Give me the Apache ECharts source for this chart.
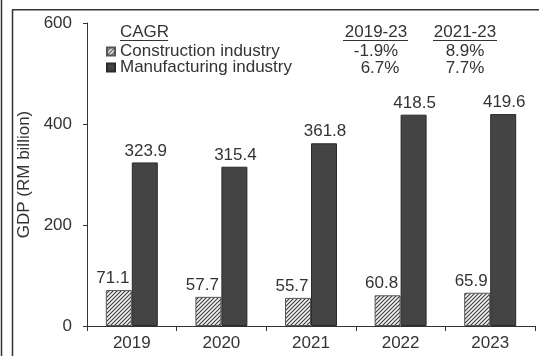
<!DOCTYPE html>
<html><head><meta charset="utf-8">
<script src="https://cdn.jsdelivr.net/npm/echarts@6/dist/echarts.min.js"></script>
<style>html,body{margin:0;padding:0;background:#fff}#c{width:539px;height:356px}</style>
</head><body><div id="c"></div>
<script>
const categories = ['2019', '2020', '2021', '2022', '2023'];
const construction = [71.1, 57.7, 55.7, 60.8, 65.9];
const manufacturing = [323.9, 315.4, 361.8, 418.5, 419.6];
const seriesNames = ['Construction industry', 'Manufacturing industry'];
const cagrHeader = 'CAGR';
const cagrPeriods = ['2019-23', '2021-23'];
const cagrConstruction = ['-1.9%', '8.9%'];
const cagrManufacturing = ['6.7%', '7.7%'];
const yTicks = [0, 200, 400, 600];

const pc = document.createElement('canvas');
pc.width = 4; pc.height = 4;
const g = pc.getContext('2d');
g.fillStyle = '#f4f4f4'; g.fillRect(0, 0, 4, 4);
g.strokeStyle = '#3a3a3a'; g.lineWidth = 1.1;
g.beginPath();
g.moveTo(0, 4); g.lineTo(4, 0);
g.moveTo(-1, 1); g.lineTo(1, -1);
g.moveTo(3, 5); g.lineTo(5, 3);
g.stroke();

const txt = '#333';
const font = 'Liberation Sans, Arial, sans-serif';
const chart = echarts.init(document.getElementById('c'), null, {renderer: 'canvas'});
const colX = [376, 465];
chart.setOption({
  animation: false,
  textStyle: {fontFamily: font},
  grid: {left: 87, right: 4, top: 23, bottom: 30},
  legend: {
    data: seriesNames, orient: 'vertical', left: 101, top: 38,
    itemWidth: 8, itemHeight: 8, itemGap: -1, icon: 'rect',
    textStyle: {fontSize: 17, color: txt, fontFamily: font}, selectedMode: false
  },
  xAxis: {
    type: 'category', data: categories,
    axisLine: {lineStyle: {color: '#333', width: 1}},
    axisTick: {show: true, length: 5, lineStyle: {color: '#333'}},
    axisLabel: {fontSize: 17, color: txt, margin: 9, fontFamily: font}
  },
  yAxis: {
    type: 'value', min: yTicks[0], max: yTicks[yTicks.length - 1], interval: 200,
    name: 'GDP (RM billion)', nameLocation: 'middle', nameGap: 53,
    nameTextStyle: {fontSize: 17, color: txt, fontFamily: font},
    axisLine: {show: true, lineStyle: {color: '#333', width: 1}},
    axisTick: {show: true, length: 4, lineStyle: {color: '#333'}},
    axisLabel: {fontSize: 17, color: txt, margin: 15, fontFamily: font},
    splitLine: {show: false}
  },
  graphic: [
    {type: 'line', shape: {x1: 1.5, y1: 0, x2: 1.5, y2: 356}, style: {stroke: '#333', lineWidth: 1.5}},
    {type: 'line', shape: {x1: 12.5, y1: 10, x2: 12.5, y2: 356}, style: {stroke: '#333', lineWidth: 1.5}},
    {type: 'line', shape: {x1: 12, y1: 9.8, x2: 539, y2: 9.8}, style: {stroke: '#333', lineWidth: 1.5}},
    {type: 'text', left: 120, top: 24, style: {text: cagrHeader, font: '17px ' + font, fill: txt}},
    {type: 'line', shape: {x1: 120, y1: 40.5, x2: 168, y2: 40.5}, style: {stroke: '#333', lineWidth: 1}},
    {type: 'text', x: colX[0], y: 24, style: {text: cagrPeriods[0], font: '17px ' + font, fill: txt, align: 'center'}},
    {type: 'line', shape: {x1: 343, y1: 40.5, x2: 408, y2: 40.5}, style: {stroke: '#333', lineWidth: 1}},
    {type: 'text', x: colX[1], y: 24, style: {text: cagrPeriods[1], font: '17px ' + font, fill: txt, align: 'center'}},
    {type: 'line', shape: {x1: 433, y1: 40.5, x2: 497, y2: 40.5}, style: {stroke: '#333', lineWidth: 1}},
    {type: 'text', x: colX[0], y: 43, style: {text: cagrConstruction[0], font: '17px ' + font, fill: txt, align: 'center'}},
    {type: 'text', x: colX[1], y: 43, style: {text: cagrConstruction[1], font: '17px ' + font, fill: txt, align: 'center'}},
    {type: 'text', x: colX[0] + 4, y: 60, style: {text: cagrManufacturing[0], font: '17px ' + font, fill: txt, align: 'center'}},
    {type: 'text', x: colX[1], y: 60, style: {text: cagrManufacturing[1], font: '17px ' + font, fill: txt, align: 'center'}}
  ],
  series: [
    {
      name: seriesNames[0], type: 'bar', data: construction, barWidth: 26, barGap: '0%',
      itemStyle: {color: {image: pc, repeat: 'repeat'}, borderColor: '#555', borderWidth: 1},
      label: {show: true, position: 'top', distance: 3, offset: [-6, 0], fontSize: 17, color: txt, fontFamily: font}
    },
    {
      name: seriesNames[1], type: 'bar', data: manufacturing, barWidth: 26, barGap: '0%',
      itemStyle: {color: '#444', borderColor: '#2a2a2a', borderWidth: 1},
      label: {show: true, position: 'top', distance: 3, offset: [1, 0], fontSize: 17, color: txt, fontFamily: font}
    }
  ]
});
</script></body></html>
